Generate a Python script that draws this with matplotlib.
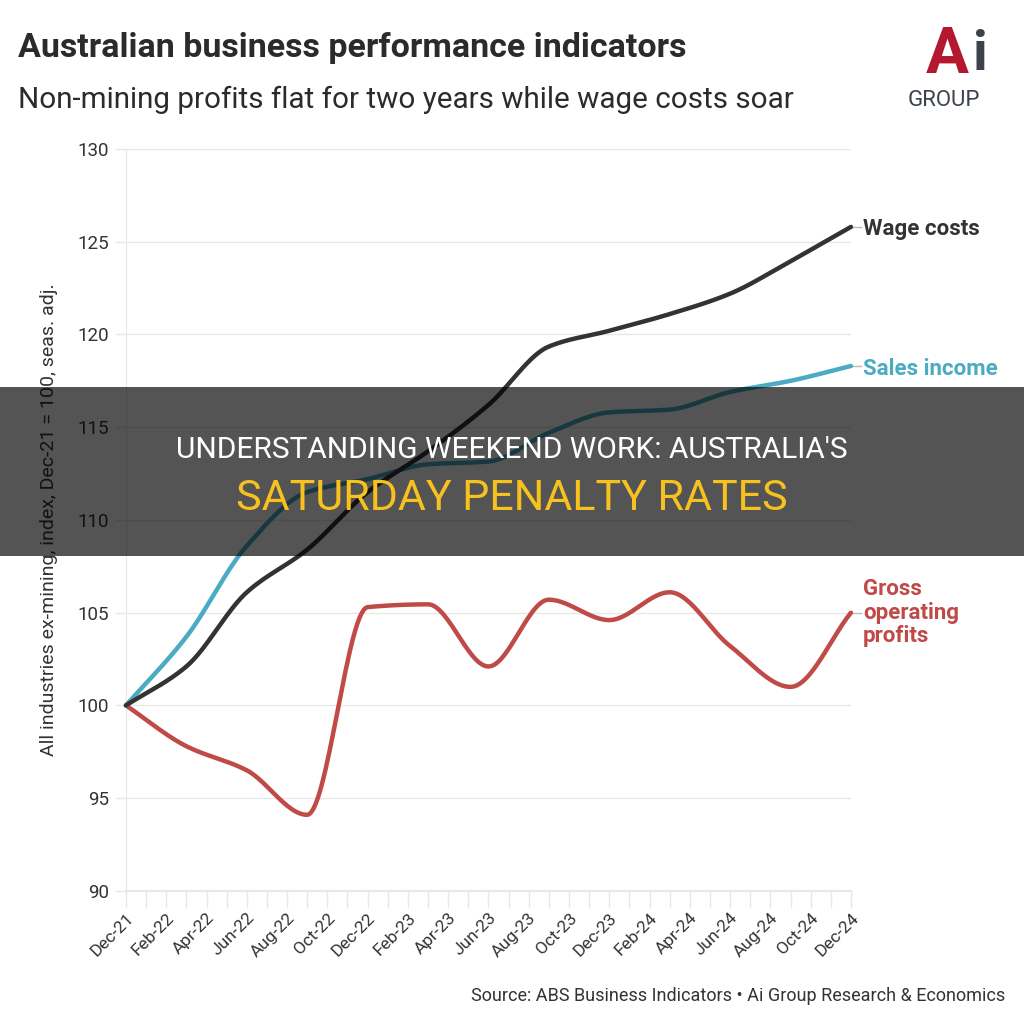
import numpy as np
import matplotlib
matplotlib.use("Agg")
import matplotlib.pyplot as plt
from matplotlib.patches import Rectangle

# quarterly observations, Dec-21 .. Dec-24 (month index 0..36)
quarters = ["Dec-21", "Mar-22", "Jun-22", "Sep-22", "Dec-22", "Mar-23", "Jun-23",
            "Sep-23", "Dec-23", "Mar-24", "Jun-24", "Sep-24", "Dec-24"]
wage_costs = [100.0, 102.1, 106.1, 108.4, 111.5, 113.7, 116.2, 119.35, 120.2, 121.1, 122.2, 123.95, 125.8]
sales_income = [100.0, 103.7, 108.6, 111.5, 112.2, 113.0, 113.15, 114.7, 115.8, 115.95, 116.9, 117.5, 118.3]
gross_profits = [100.0, 97.8, 96.5, 94.1, 105.3, 105.45, 102.1, 105.7, 104.6, 106.1, 103.2, 101.0, 105.0]

tick_labels = ["Dec-21", "Feb-22", "Apr-22", "Jun-22", "Aug-22", "Oct-22", "Dec-22",
               "Feb-23", "Apr-23", "Jun-23", "Aug-23", "Oct-23", "Dec-23", "Feb-24",
               "Apr-24", "Jun-24", "Aug-24", "Oct-24", "Dec-24"]

C_WAGE = "#333333"
C_SALES = "#4aabc3"
C_PROFIT = "#c04a48"
C_GRID = "#e8e8e8"
C_TEXT = "#333333"
ROBOTO = ["Roboto", "DejaVu Sans"]


def monotone(x, y, n=30):
    # monotone cubic (Fritsch-Carlson), like d3 curveMonotoneX
    x = np.asarray(x, float)
    y = np.asarray(y, float)
    h = np.diff(x)
    d = np.diff(y) / h
    m = np.zeros_like(y)
    m[0], m[-1] = d[0], d[-1]
    for i in range(1, len(y) - 1):
        if d[i - 1] * d[i] <= 0:
            m[i] = 0
        else:
            w1 = 2 * h[i] + h[i - 1]
            w2 = h[i] + 2 * h[i - 1]
            m[i] = (w1 + w2) / (w1 / d[i - 1] + w2 / d[i])
    xs, ys = [], []
    for i in range(len(h)):
        t = np.linspace(0, 1, n, endpoint=(i == len(h) - 1))
        h00 = 2 * t**3 - 3 * t**2 + 1
        h10 = t**3 - 2 * t**2 + t
        h01 = -2 * t**3 + 3 * t**2
        h11 = t**3 - t**2
        xs.append(x[i] + t * h[i])
        ys.append(h00 * y[i] + h10 * h[i] * m[i] + h01 * y[i + 1] + h11 * h[i] * m[i + 1])
    return np.concatenate(xs), np.concatenate(ys)


fig = plt.figure(figsize=(10.24, 10.24), dpi=100)
ax = fig.add_axes([0.123, 0.130, 0.708, 0.7245])

xq = np.arange(len(quarters)) * 3
for vals, col in [(gross_profits, C_PROFIT), (sales_income, C_SALES), (wage_costs, C_WAGE)]:
    sx, sy = monotone(xq, vals)
    ax.plot(sx, sy, color=col, lw=3.2, solid_capstyle="round", zorder=3, clip_on=False)

ax.set_xlim(0, 36)
ax.set_ylim(90, 130)
ax.set_yticks(range(90, 131, 5))
ax.set_xticks(range(0, 37, 2))
ax.set_xticklabels(tick_labels, rotation=45, ha="right", rotation_mode="anchor",
                   fontsize=12.5, color=C_TEXT, family=ROBOTO)
ax.set_xticks(range(0, 37), minor=True)
ax.tick_params(axis="x", which="both", length=12, width=1, color=C_GRID, pad=2)
ax.tick_params(axis="y", length=8, width=1, color=C_GRID, pad=4, labelsize=13.5, labelcolor=C_TEXT)
for lab in ax.get_yticklabels():
    lab.set_family(ROBOTO)
ax.grid(axis="y", color=C_GRID, lw=1)
for s in ["top", "right"]:
    ax.spines[s].set_visible(False)
ax.spines["left"].set_color(C_GRID)
ax.spines["bottom"].set_color(C_GRID)
ax.spines["bottom"].set_linewidth(1.5)

ax.set_ylabel("All industries ex-mining, index, Dec-21 = 100, seas. adj.",
              fontsize=14, color=C_TEXT, labelpad=14, family=ROBOTO)

# end labels
end_labels = [("Wage costs", wage_costs[-1], C_WAGE, 125.7),
              ("Sales income", sales_income[-1], C_SALES, 118.15),
              ("Gross\noperating\nprofits", gross_profits[-1], C_PROFIT, 105.0)]
for txt, yv, col, ty in end_labels:
    ax.plot([36, 36.5], [yv, yv], color="#bbbbbb", lw=1, clip_on=False)
    ax.text(36.6, ty, txt, color=col, fontsize=16, fontweight="bold", va="center", ha="left",
            linespacing=1.08, family=ROBOTO)

# titles
fig.text(0.018, 0.953, "Australian business performance indicators", fontsize=24.5,
         fontweight="bold", color="#2b2b2b", va="center", ha="left", family=ROBOTO)
fig.text(0.018, 0.902, "Non-mining profits flat for two years while wage costs soar", fontsize=21.3,
         color="#2b2b2b", va="center", ha="left", family=ROBOTO)

# logo
fig.text(0.925, 0.946, "A", fontsize=46, fontweight="bold", color="#b3182e", ha="center", va="center",
         family=ROBOTO)
fig.text(0.957, 0.946, "i", fontsize=40, fontweight="bold", color="#3b424c", ha="center", va="center",
         family=ROBOTO)
fig.text(0.922, 0.902, "GROUP", fontsize=16, color="#3b424c", ha="center", va="center",
         family=ROBOTO)

fig.text(0.982, 0.027, "Source: ABS Business Indicators \u2022 Ai Group Research & Economics", fontsize=13,
         color=C_TEXT, ha="right", va="center", family=ROBOTO)

# banner overlay
fig.patches.append(Rectangle((0, 1 - 556 / 1024), 1, 169 / 1024, transform=fig.transFigure,
                             facecolor="black", alpha=0.67, zorder=10))
fig.text(0.5, 1 - 450 / 1024, "UNDERSTANDING WEEKEND WORK: AUSTRALIA'S", fontsize=21.5, color="white",
         ha="center", va="center", zorder=11, family=ROBOTO)
fig.text(0.5, 1 - 499 / 1024, "SATURDAY PENALTY RATES", fontsize=31, color="#f7c21e",
         ha="center", va="center", zorder=11, family=ROBOTO)

fig.savefig("out.png", dpi=100)
